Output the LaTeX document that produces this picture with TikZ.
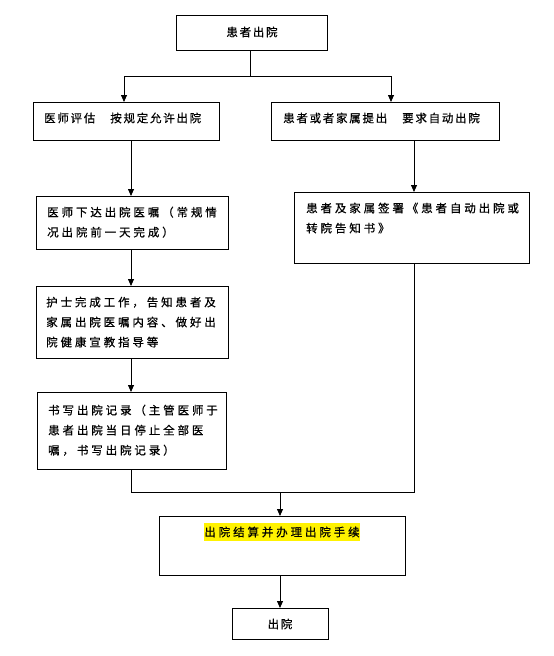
\documentclass[tikz,border=0pt]{standalone}
\usepackage{fontspec}
\newfontfamily\cjkA[LetterSpace=15,FakeBold=0.6]{Noto Sans CJK SC}
\newfontfamily\cjkB[LetterSpace=25,FakeBold=0.6]{Noto Sans CJK SC}
\usetikzlibrary{arrows.meta}
\begin{document}
\begin{tikzpicture}[x=1pt,y=-1pt,
  box/.style={draw, line width=0.8pt, inner sep=0, anchor=north west},
  arr/.style={-{Triangle[width=6pt,length=7pt]}, line width=0.8pt},
  ln/.style={line width=0.8pt},
  ta/.style={font=\cjkA\fontsize{11.5}{20}\selectfont, inner sep=0},
  tb/.style={font=\cjkB\fontsize{11.5}{20}\selectfont, inner sep=0, align=left, anchor=north west}]
\useasboundingbox (0,0) rectangle (554,656);
% boxes
\node[box, minimum width=151pt, minimum height=35pt] (top) at (176,15) {};
\node[box, minimum width=186pt, minimum height=38pt] (l2) at (33,102) {};
\node[box, minimum width=228pt, minimum height=38pt] (r2) at (271,102) {};
\node[box, minimum width=192pt, minimum height=53pt] (l3) at (36,196) {};
\node[box, minimum width=192pt, minimum height=72pt] (l4) at (36,286) {};
\node[box, minimum width=189pt, minimum height=77pt] (l5) at (37,392) {};
\node[box, minimum width=235pt, minimum height=71pt] (r3) at (294,192) {};
\node[box, minimum width=246pt, minimum height=59pt] (b6) at (159,516) {};
\node[box, minimum width=96pt, minimum height=31pt] (b7) at (232,608) {};
% texts
\node[ta] (t1) at (252,32) {患者出院};
\node[ta, anchor=west] (t2) at (44,118) {医师评估　按规定允许出院};
\node[ta, anchor=west] (t3) at (283,118) {患者或者家属提出　要求自动出院};
\node[tb] (t4) at (47,206.5) {医师下达出院医嘱（常规情\\况出院前一天完成）};
\node[tb] (t5) at (46,296.5) {护士完成工作，告知患者及\\家属出院医嘱内容、做好出\\院健康宣教指导等};
\node[tb] (t6) at (48,404.5) {书写出院记录（主管医师于\\患者出院当日停止全部医\\嘱，书写出院记录）};
\node[tb] (t7) at (306,202.5) {患者及家属签署《患者自动出院或\\转院告知书》};
\node[font=\cjkB\fontsize{11.5}{20}\selectfont, fill=yellow, inner xsep=0.5pt, inner ysep=4pt] (t8) at (282,532) {出院结算并办理出院手续};
\node[ta] (t9) at (280,624) {出院};
% connectors
\coordinate (j1) at (250,76);
\coordinate (jl) at (124,76);
\coordinate (jr) at (391,76);
\coordinate (cl) at (131,0);
\coordinate (cr) at (414,0);
\coordinate (jb) at (280,492);
\draw[ln] (top.south -| j1) -- (j1);
\draw[ln] (jl) -- (jr);
\draw[arr] (jl) -- (jl |- l2.north);
\draw[arr] (jr) -- (jr |- r2.north);
\draw[arr] (l2.south -| cl) -- (l3.north -| cl);
\draw[arr] (l3.south -| cl) -- (l4.north -| cl);
\draw[arr] (l4.south -| cl) -- (l5.north -| cl);
\draw[arr] (r2.south -| cr) -- (r3.north -| cr);
\draw[ln] (l5.south -| cl) -- (cl |- jb) -- (cr |- jb) -- (r3.south -| cr);
\draw[arr] (jb) -- (jb |- b6.north);
\draw[arr] (b6.south -| jb) -- (b7.north -| jb);
\end{tikzpicture}
\end{document}
